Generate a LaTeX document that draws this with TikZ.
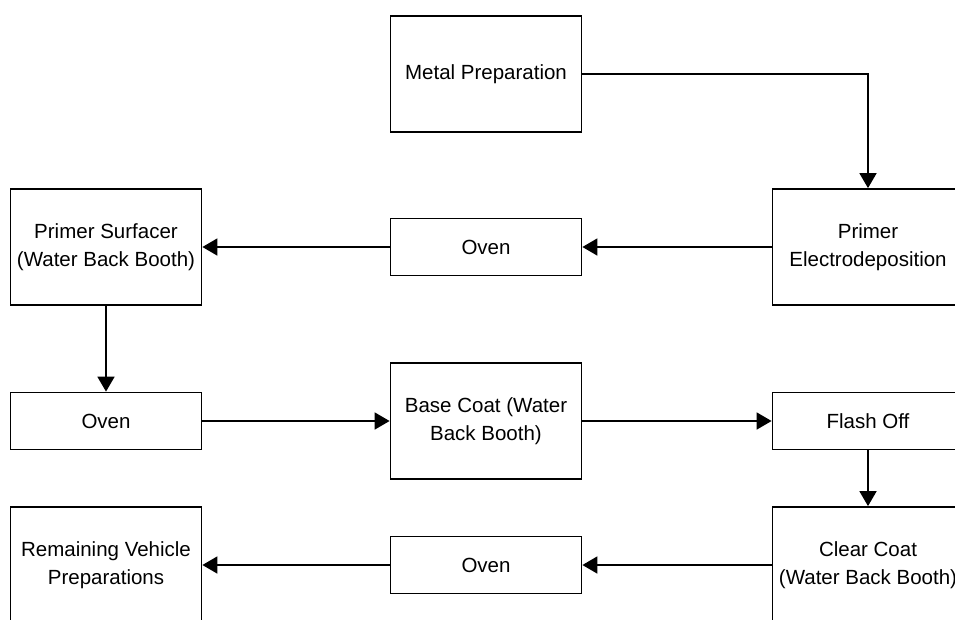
\documentclass[tikz,border=0pt]{standalone}
\usepackage{fontspec}
\setmainfont{Liberation Sans}
\usetikzlibrary{arrows.meta}
\begin{document}
\begin{tikzpicture}[x=1pt,y=-1pt,
  every node/.style={font=\fontsize{20.5}{28}\selectfont},
  tallbox/.style={draw, line width=1.8pt, minimum width=191pt, minimum height=116pt, align=center, inner sep=0pt},
  flatbox/.style={draw, line width=1.8pt, minimum width=191pt, minimum height=57pt, align=center, inner sep=0pt},
  flow/.style={line width=1.8pt, -{Triangle[length=15pt,width=17pt]}}]
\useasboundingbox (0,0) rectangle (955,619);
\clip (0,0) rectangle (955,619);
\fill[white] (0,0) rectangle (955,619);

% process stages
\node[tallbox] (mp)  at (486,74)  {Metal Preparation};
\node[tallbox] (pe)  at (868,247) {Primer\\Electrodeposition};
\node[flatbox] (ov1) at (486,247) {Oven};
\node[tallbox] (ps)  at (106,247) {Primer Surfacer\\(Water Back Booth)};
\node[flatbox] (ov2) at (106,421) {Oven};
\node[tallbox] (bc)  at (486,421) {Base Coat (Water\\Back Booth)};
\node[flatbox] (fo)  at (868,421) {Flash Off};
\node[tallbox] (cc)  at (868,565) {Clear Coat\\(Water Back Booth)};
\node[flatbox] (ov3) at (486,565) {Oven};
\node[tallbox] (rv)  at (106,565) {Remaining Vehicle\\Preparations};

% material flow
\draw[flow] (mp.east) -| (pe.north);
\draw[flow] (pe.west) -- (ov1.east);
\draw[flow] (ov1.west) -- (ps.east);
\draw[flow] (ps.south) -- (ov2.north);
\draw[flow] (ov2.east) -- (bc.west);
\draw[flow] (bc.east) -- (fo.west);
\draw[flow] (fo.south) -- (cc.north);
\draw[flow] (cc.west) -- (ov3.east);
\draw[flow] (ov3.west) -- (rv.east);
\end{tikzpicture}
\end{document}
